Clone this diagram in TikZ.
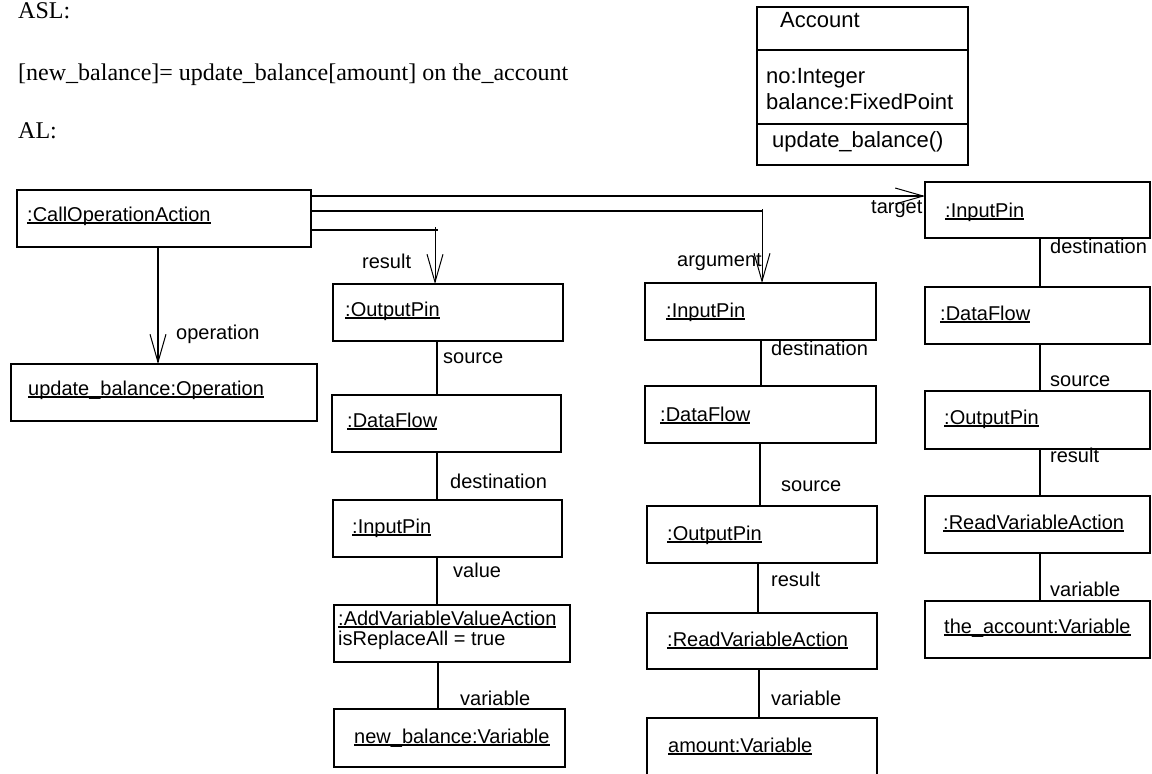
\documentclass[tikz,border=0pt]{standalone}
\usepackage{fontspec}
\setmainfont{Liberation Sans}
\newfontfamily\tnr{Liberation Serif}
\usetikzlibrary{arrows.meta}
\newcommand\ulx[1]{\setbox0=\hbox{#1}\rlap{\rule[-2.6pt]{\wd0}{1.3pt}}\box0}
\begin{document}
\begin{tikzpicture}[x=1pt,y=-1pt,
  box/.style={draw, line width=1.8pt, outer sep=0pt, inner sep=0pt, anchor=north west},
  txt/.style={anchor=base west, inner sep=0pt, font=\fontsize{20pt}{24pt}\selectfont},
  atxt/.style={anchor=base west, inner sep=0pt, font=\fontsize{22pt}{26pt}\selectfont},
  ttxt/.style={anchor=base west, inner sep=0pt, font=\tnr\fontsize{24pt}{28pt}\selectfont},
  conn/.style={line width=1.8pt},
  thinconn/.style={line width=1pt},
  uml/.style={-{Straight Barb[length=28pt,width=16pt,line width=1pt]}},
]
\clip (0,0) rectangle (1152,774);

% header texts
\node[ttxt] (asl) at (18,18.5) {ASL:};
\node[ttxt] (expr) at (18,80) {[new\_balance]= update\_balance[amount] on the\_account};
\node[ttxt] (al) at (18,138) {AL:};

% Account class
\node[box, minimum width=211pt, minimum height=158pt] (acc) at (757,7) {};
\draw[conn] (acc.west |- 0,50) -- (acc.east |- 0,50);
\draw[conn] (acc.west |- 0,124) -- (acc.east |- 0,124);
\node[atxt] (accn) at (780,27) {Account};
\node[atxt] (acca) at (766,83) {no:Integer};
\node[atxt] (accb) at (766,109) {balance:FixedPoint};
\node[atxt] (acco) at (772,147) {update\_balance()};

% boxes
\node[box, minimum width=294pt, minimum height=57pt] (cop) at (17,190) {};
\node[box, minimum width=306pt, minimum height=57pt] (opn) at (11,364) {};

\node[box, minimum width=230pt, minimum height=57pt] (op2) at (333,284) {};
\node[box, minimum width=229pt, minimum height=57pt] (df2) at (332,395) {};
\node[box, minimum width=229pt, minimum height=57pt] (ip2) at (333,500) {};
\node[box, minimum width=236pt, minimum height=57pt] (ava) at (334,605) {};
\node[box, minimum width=231pt, minimum height=58pt] (nb) at (334,709) {};

\node[box, minimum width=231pt, minimum height=57pt] (ip3) at (645,283) {};
\node[box, minimum width=231pt, minimum height=57pt] (df3) at (645,386) {};
\node[box, minimum width=230pt, minimum height=57pt] (op3) at (647,506) {};
\node[box, minimum width=230pt, minimum height=56pt] (rva3) at (647,613) {};
\node[box, minimum width=230pt, minimum height=62pt] (amt) at (647,718) {};

\node[box, minimum width=225pt, minimum height=56pt] (ip4) at (925,182) {};
\node[box, minimum width=225pt, minimum height=57pt] (df4) at (925,287) {};
\node[box, minimum width=225pt, minimum height=58pt] (op4) at (925,391) {};
\node[box, minimum width=225pt, minimum height=57pt] (rva4) at (925,496) {};
\node[box, minimum width=225pt, minimum height=57pt] (acv) at (925,601) {};

% box texts
\node[txt] (copt) at (27,221) {\ulx{:CallOperationAction}};
\node[txt] (opnt) at (28,395) {\ulx{update\_balance:Operation}};
\node[txt] (op2t) at (345,316) {\ulx{:OutputPin}};
\node[txt] (df2t) at (347,427) {\ulx{:DataFlow}};
\node[txt] (ip2t) at (352,533) {\ulx{:InputPin}};
\node[txt] (avat) at (338,625) {\ulx{:AddVariableValueAction}};
\node[txt] (avaa) at (338,645) {isReplaceAll = true};
\node[txt] (nbt) at (354,743) {\ulx{new\_balance:Variable}};
\node[txt] (ip3t) at (666,317) {\ulx{:InputPin}};
\node[txt] (df3t) at (660,421) {\ulx{:DataFlow}};
\node[txt] (op3t) at (667,540) {\ulx{:OutputPin}};
\node[txt] (rva3t) at (667,646) {\ulx{:ReadVariableAction}};
\node[txt] (amtt) at (668,752) {\ulx{amount:Variable}};
\node[txt] (ip4t) at (945,217) {\ulx{:InputPin}};
\node[txt] (df4t) at (940,320) {\ulx{:DataFlow}};
\node[txt] (op4t) at (944,424) {\ulx{:OutputPin}};
\node[txt] (rva4t) at (943,529) {\ulx{:ReadVariableAction}};
\node[txt] (acvt) at (944,633) {\ulx{the\_account:Variable}};

% connectors from CallOperationAction
\draw[conn, uml] (cop.east |- 0,196) -- (ip4.west |- 0,196);
\coordinate (ca) at (762,211);
\draw[conn] (cop.east |- ca) -- (ca);
\draw[thinconn, uml] (762,209) -- (ip3.north -| ca);
\coordinate (cr) at (435,230);
\draw[conn] (cop.east |- cr) -- (438,230);
\draw[thinconn, uml] (435,227) -- (op2.north -| cr);
\draw[conn, uml] (cop.south -| 158,0) -- (opn.north -| 158,0);

% column connectors
\draw[conn] (op2.south -| 437,0) -- (df2.north -| 437,0);
\draw[conn] (df2.south -| 437,0) -- (ip2.north -| 437,0);
\draw[conn] (ip2.south -| 437,0) -- (ava.north -| 437,0);
\draw[conn] (ava.south -| 438,0) -- (nb.north -| 438,0);

\draw[conn] (ip3.south -| 761,0) -- (df3.north -| 761,0);
\draw[conn] (df3.south -| 760,0) -- (op3.north -| 760,0);
\draw[conn] (op3.south -| 758,0) -- (rva3.north -| 758,0);
\draw[conn] (rva3.south -| 759,0) -- (amt.north -| 759,0);

\draw[conn] (ip4.south -| 1040,0) -- (df4.north -| 1040,0);
\draw[conn] (df4.south -| 1040,0) -- (op4.north -| 1040,0);
\draw[conn] (op4.south -| 1040,0) -- (rva4.north -| 1040,0);
\draw[conn] (rva4.south -| 1040,0) -- (acv.north -| 1040,0);

% role labels
\node[txt] (lop) at (176,339) {operation};
\node[txt] (lres) at (362,268) {result};
\node[txt] (larg) at (677,266) {argument};
\node[txt] (ltgt) at (871,213) {target};
\node[txt] (l2a) at (443,363) {source};
\node[txt] (l2b) at (450,488) {destination};
\node[txt] (l2c) at (453,577) {value};
\node[txt] (l2d) at (460,705) {variable};
\node[txt] (l3a) at (771,355) {destination};
\node[txt] (l3b) at (781,491) {source};
\node[txt] (l3c) at (771,586) {result};
\node[txt] (l3d) at (771,705) {variable};
\node[txt] (l4a) at (1050,253) {destination};
\node[txt] (l4b) at (1050,386) {source};
\node[txt] (l4c) at (1050,462) {result};
\node[txt] (l4d) at (1050,596) {variable};
\end{tikzpicture}
\end{document}
